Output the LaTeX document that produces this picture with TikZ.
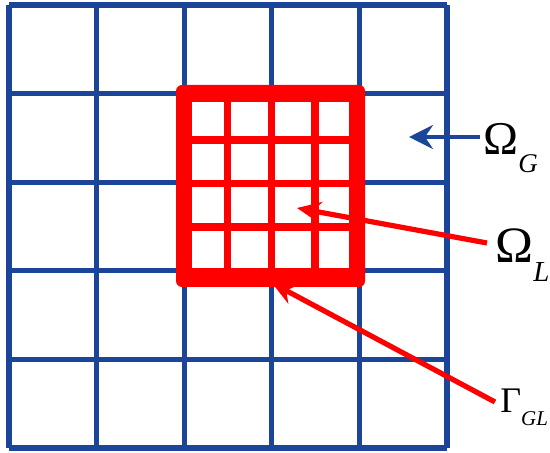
\documentclass[tikz,border=0pt]{standalone}
\usepackage{fontspec}
\setmainfont{Liberation Serif}
\usepackage{tikz}
\usetikzlibrary{arrows.meta, calc}
\definecolor{gridblue}{HTML}{1A4599}
\definecolor{localred}{HTML}{FF0000}
\newcommand{\lowsub}[3]{\raisebox{-#1}{\fontsize{#2}{#2}\selectfont\itshape #3}}

\begin{document}
\begin{tikzpicture}[
    x=0.5pt, y=-0.5pt,
    coarse/.style={draw=gridblue, line width=2.6pt, line join=round},
    fine/.style={draw=localred, line width=3.6pt},
    lab/.style={inner sep=0pt, anchor=base west},
    barr/.style={-{Stealth[length=12pt, width=12pt, inset=4pt]}, line width=2.2pt, gridblue},
    rarr/.style={-{Stealth[length=12pt, width=10.5pt, inset=4pt]}, line width=2.6pt, localred}
]
    \useasboundingbox (0,0) rectangle (550,453);

    % global coarse grid
    \foreach \i in {0,...,5} {
        \draw[coarse] ({9+87.6*\i},5) -- ({9+87.6*\i},448);
        \draw[coarse] (9,{5+88.6*\i}) -- (447,{5+88.6*\i});
    }

    % local fine grid with thick border
    \fill[localred, rounded corners=3pt] (176,85) rectangle (365,287);
    \fill[white] (192,102) rectangle (349,268);
    \foreach \x in {227.5, 271.5, 315}
        \draw[fine] (\x,102) -- (\x,268);
    \foreach \y in {140, 183.5, 227}
        \draw[fine] (192,\y) -- (349,\y);

    % labels
    \node[lab, font=\fontsize{23.5}{24}\selectfont] (omg) at (483,155) {Ω\lowsub{9pt}{13.5}{G}};
    \node[lab, font=\fontsize{25.5}{26}\selectfont] (oml) at (495,263) {Ω\lowsub{9.5pt}{14.5}{L}};
    \node[lab, font=\fontsize{18}{18}\selectfont] (gam) at (500,412) {Γ\lowsub{6.5pt}{10.5}{GL}};

    % arrow tips
    \coordinate (tipG) at (409,137);
    \coordinate (tipL) at (297,208);
    \coordinate (tipGL) at (272,283);

    \draw[barr] ([shift={(-3,-18)}]omg.base west) -- (tipG);
    \draw[rarr] ([shift={(-8,-20)}]oml.base west) -- (tipL);
    \draw[rarr] ([shift={(-5,-10)}]gam.base west) -- (tipGL);
\end{tikzpicture}
\end{document}
